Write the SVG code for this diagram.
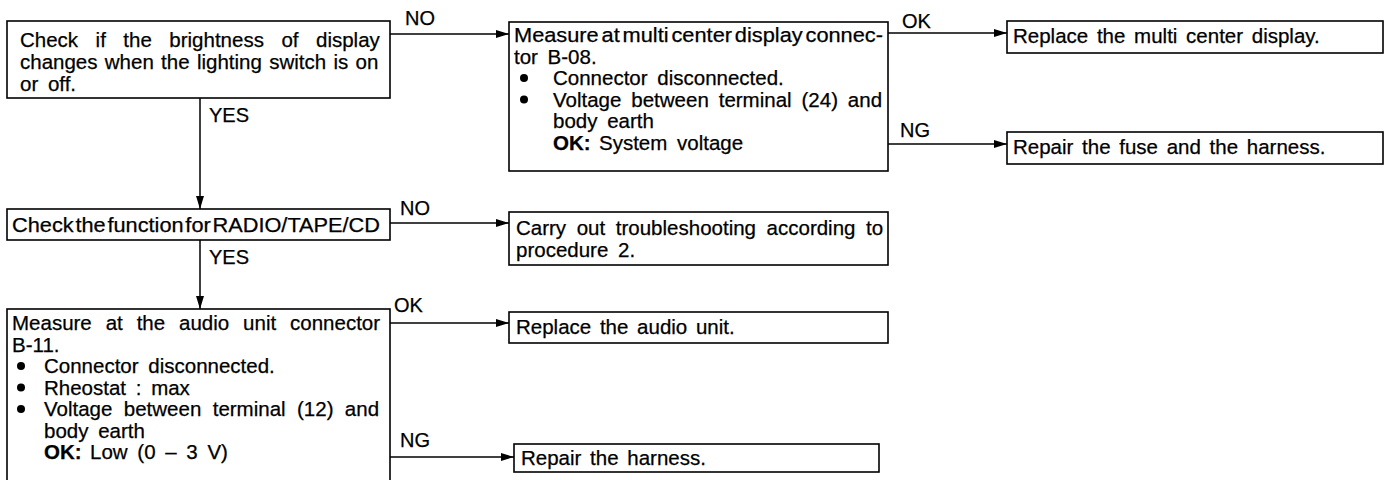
<svg xmlns="http://www.w3.org/2000/svg" width="1388" height="480" viewBox="0 0 1388 480">
<defs>
<marker id="arr" markerUnits="userSpaceOnUse" markerWidth="13" markerHeight="8" refX="13" refY="4" orient="auto">
<path d="M0,0 L13,4 L0,8 z" fill="#000"/>
</marker>
<style>
.box{fill:#fff;stroke:#000;stroke-width:1.6}
.t{font-family:"Liberation Sans",Arial,Helvetica,sans-serif;font-size:20.5px;fill:#000;stroke:#000;stroke-width:0.25}
.b{font-weight:bold}
.lbl{font-family:"Liberation Sans",Arial,Helvetica,sans-serif;font-size:20px;fill:#000;stroke:#000;stroke-width:0.25}
.ln{fill:none;stroke:#000;stroke-width:1.5}
.dot{fill:#000}
</style>
</defs>
<rect width="1388" height="480" fill="#fff"/>

<g id="connectors">
<line class="ln" x1="390" y1="34" x2="509" y2="34" marker-end="url(#arr)"/>
<text class="lbl" x="405" y="25">NO</text>
<line class="ln" x1="888" y1="33" x2="1007" y2="33" marker-end="url(#arr)"/>
<text class="lbl" x="902" y="28">OK</text>
<line class="ln" x1="888" y1="144" x2="1007" y2="144" marker-end="url(#arr)"/>
<text class="lbl" x="900" y="137">NG</text>
<line class="ln" x1="200" y1="98" x2="200" y2="209" marker-end="url(#arr)"/>
<text class="lbl" x="209" y="122">YES</text>
<line class="ln" x1="390" y1="223" x2="509" y2="223" marker-end="url(#arr)"/>
<text class="lbl" x="400" y="215">NO</text>
<line class="ln" x1="200" y1="240" x2="200" y2="309" marker-end="url(#arr)"/>
<text class="lbl" x="209" y="264">YES</text>
<line class="ln" x1="390" y1="323" x2="509" y2="323" marker-end="url(#arr)"/>
<text class="lbl" x="394" y="312">OK</text>
<line class="ln" x1="390" y1="457" x2="514" y2="457" marker-end="url(#arr)"/>
<text class="lbl" x="400" y="447">NG</text>
</g>

<g id="n1">
<rect class="box" x="7" y="21" width="383" height="77"/>
<text class="t" x="20" y="47" word-spacing="11.8">Check if the brightness of display</text>
<text class="t" x="20" y="69" word-spacing="1.6">changes when the lighting switch is on</text>
<text class="t" x="20" y="91" word-spacing="4">or off.</text>
</g>

<g id="n2">
<rect class="box" x="509" y="22" width="379" height="149"/>
<text class="t" x="514" y="42" word-spacing="-3" textLength="369" lengthAdjust="spacingAndGlyphs">Measure at multi center display connec-</text>
<text class="t" x="514" y="63.5" word-spacing="4">tor B-08.</text>
<circle class="dot" cx="524" cy="78" r="4"/>
<text class="t" x="553" y="85" word-spacing="4">Connector disconnected.</text>
<circle class="dot" cx="524" cy="99.5" r="4"/>
<text class="t" x="553" y="106.5" word-spacing="4.2">Voltage between terminal (24) and</text>
<text class="t" x="553" y="128" word-spacing="4">body earth</text>
<text class="t" x="553" y="149.5"><tspan class="b">OK:</tspan><tspan x="599" word-spacing="4">System voltage</tspan></text>
</g>

<g id="n3">
<rect class="box" x="1007" y="21" width="376" height="32"/>
<text class="t" x="1013" y="43" word-spacing="3">Replace the multi center display.</text>
</g>

<g id="n4">
<rect class="box" x="1007" y="132" width="376" height="32"/>
<text class="t" x="1013" y="154" word-spacing="3">Repair the fuse and the harness.</text>
</g>

<g id="n5">
<rect class="box" x="7" y="209" width="383" height="31"/>
<text class="t" x="12" y="232" word-spacing="-4" textLength="368" lengthAdjust="spacingAndGlyphs">Check the function for RADIO/TAPE/CD</text>
</g>

<g id="n6">
<rect class="box" x="509" y="212" width="379" height="53"/>
<text class="t" x="516" y="235" word-spacing="4.9">Carry out troubleshooting according to</text>
<text class="t" x="516" y="257" word-spacing="4">procedure 2.</text>
</g>

<g id="n7">
<rect class="box" x="7" y="309" width="383" height="180"/>
<text class="t" x="12" y="330" word-spacing="8.2">Measure at the audio unit connector</text>
<text class="t" x="12" y="351.5">B-11.</text>
<circle class="dot" cx="21" cy="366" r="4"/>
<text class="t" x="44" y="373" word-spacing="4">Connector disconnected.</text>
<circle class="dot" cx="21" cy="387.5" r="4"/>
<text class="t" x="44" y="394.5" word-spacing="4">Rheostat : max</text>
<circle class="dot" cx="21" cy="409" r="4"/>
<text class="t" x="44" y="416" word-spacing="5.7">Voltage between terminal (12) and</text>
<text class="t" x="44" y="437.5" word-spacing="4">body earth</text>
<text class="t" x="44" y="459"><tspan class="b">OK:</tspan><tspan x="90" word-spacing="4">Low (0 – 3 V)</tspan></text>
</g>

<g id="n8">
<rect class="box" x="509" y="312" width="379" height="31"/>
<text class="t" x="516" y="334" word-spacing="3">Replace the audio unit.</text>
</g>

<g id="n9">
<rect class="box" x="514" y="444" width="365" height="28"/>
<text class="t" x="521" y="465" word-spacing="3">Repair the harness.</text>
</g>
</svg>
